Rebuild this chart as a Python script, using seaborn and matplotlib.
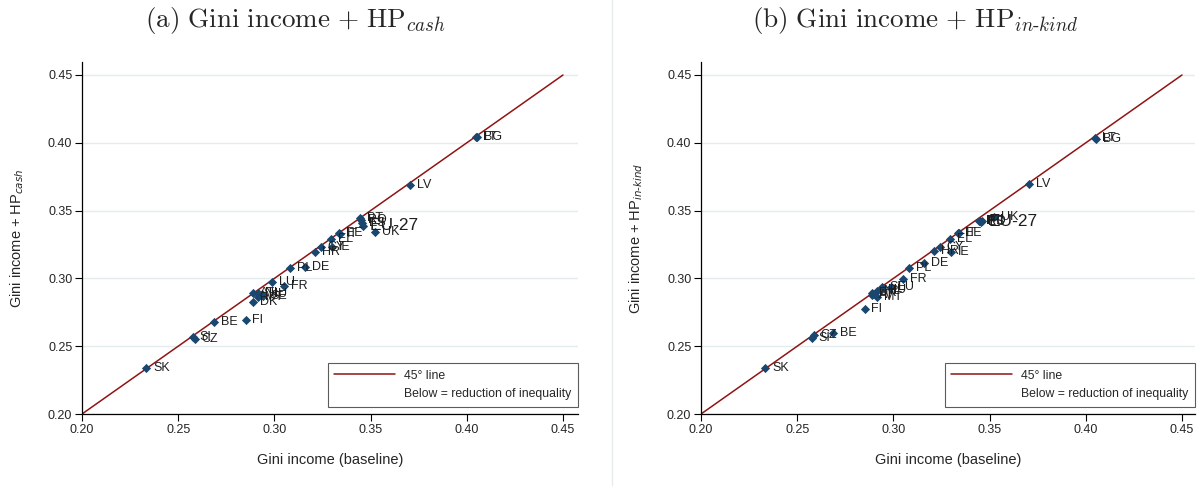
import numpy as np
import pandas as pd
import matplotlib
matplotlib.use("Agg")
import matplotlib.pyplot as plt
from matplotlib.lines import Line2D
import seaborn as sns

# country codes and Gini values
countries = ["SK", "SI", "CZ", "BE", "FI", "DK", "AT", "NL", "HU", "SE", "MT",
             "LU", "FR", "PL", "DE", "HR", "CY", "IE", "EL", "EE", "IT",
             "PT", "RO", "ES", "EU-27", "UK", "LV", "LT", "BG"]
gini_base = [0.2335, 0.2575, 0.2585, 0.2685, 0.2850, 0.2887, 0.2889, 0.2916, 0.2934, 0.2941, 0.2915,
             0.2986, 0.3050, 0.3080, 0.3160, 0.3210, 0.3240, 0.3300, 0.3295, 0.3335, 0.3340,
             0.3445, 0.3450, 0.3455, 0.3460, 0.3525, 0.3705, 0.4050, 0.4055]
gini_cash = [0.2340, 0.2570, 0.2550, 0.2680, 0.2690, 0.2828, 0.2892, 0.2895, 0.2885, 0.2870, 0.2863,
             0.2976, 0.2946, 0.3080, 0.3085, 0.3197, 0.3235, 0.3228, 0.3290, 0.3337, 0.3330,
             0.3445, 0.3430, 0.3406, 0.3390, 0.3345, 0.3690, 0.4045, 0.4040]
gini_inkind = [0.2340, 0.2560, 0.2580, 0.2595, 0.2775, 0.2895, 0.2880, 0.2905, 0.2915, 0.2935, 0.2860,
               0.2940, 0.2998, 0.3080, 0.3116, 0.3205, 0.3235, 0.3192, 0.3288, 0.3333, 0.3335,
               0.3425, 0.3420, 0.3415, 0.3420, 0.3455, 0.3696, 0.4035, 0.4030]
diag = [0.20, 0.45]
ticks = [0.20, 0.25, 0.30, 0.35, 0.40, 0.45]

df = pd.DataFrame({"country": countries, "base": gini_base,
                   "cash": gini_cash, "inkind": gini_inkind})

sns.set_style("white")
plt.rcParams["font.family"] = ["Liberation Sans", "DejaVu Sans"]

navy = "#1a476f"
maroon = "#8f1414"
gridc = "#e4ecee"

W, H = 1199, 486
fig = plt.figure(figsize=(W / 100, H / 100), dpi=100)

# (column, left px, right px, y label, title, title centre px, y label right edge px)
panels = [
    ("cash", 82, 578, r"Gini income + HP$_{cash}$",
     r"$\mathrm{(a)\ Gini\ income\ {+}\ HP}_{cash}$", 295, 26),
    ("inkind", 701, 1195, r"Gini income + HP$_{in\text{-}kind}$",
     r"$\mathrm{(b)\ Gini\ income\ {+}\ HP}_{in\text{-}kind}$", 915, 645),
]

for col, x0, x1, ylab, title, tx, ylx in panels:
    ax = fig.add_axes([x0 / W, (H - 414) / H, (x1 - x0) / W, (414 - 62) / H])
    sns.lineplot(x=diag, y=diag, ax=ax, color=maroon, linewidth=1.1, zorder=2)
    sns.scatterplot(data=df, x="base", y=col, ax=ax, marker="D", s=22,
                    color=navy, linewidth=0, zorder=3)
    for _, r in df.iterrows():
        big = r["country"] == "EU-27"
        ax.annotate(r["country"], (r["base"], r[col]), xytext=(5, 0),
                    textcoords="offset points", va="center", ha="left",
                    fontsize=12.5 if big else 9, color="#1e1e1e", zorder=4)

    ax.set_xlim(0.20, 0.20 + (x1 - x0) / 1924)
    ax.set_ylim(0.20, 0.20 + (414 - 62) / 1356)
    ax.set_xticks(ticks)
    ax.set_yticks(ticks)
    ax.set_xticklabels([f"{t:.2f}" for t in ticks], fontsize=9)
    ax.set_yticklabels([f"{t:.2f}" for t in ticks], fontsize=9)
    ax.tick_params(direction="out", length=5, width=0.8, color="black",
                   left=True, bottom=True, pad=2)
    ax.yaxis.grid(True, color=gridc, linewidth=1)
    ax.xaxis.grid(False)
    ax.set_axisbelow(True)
    for s in ["top", "right"]:
        ax.spines[s].set_visible(False)
    for s in ["left", "bottom"]:
        ax.spines[s].set_color("black")
        ax.spines[s].set_linewidth(0.9)

    ax.set_xlabel("Gini income (baseline)", fontsize=10.5)
    ax.set_ylabel(ylab, fontsize=10.5, math_fontfamily="dejavusans")
    ax.xaxis.set_label_coords(0.5, -(453 - 414) / 352)
    ax.yaxis.set_label_coords(-(x0 - ylx) / (x1 - x0), 0.5)

    handles = [Line2D([], [], color=maroon, linewidth=1.1),
               Line2D([], [], color="none")]
    leg = ax.legend(handles, ["45° line", "Below = reduction of inequality"],
                    loc="lower right", bbox_to_anchor=(1.0, 7 / 352),
                    borderaxespad=0, frameon=True, fancybox=False,
                    edgecolor="#333333", fontsize=8.8, handlelength=5.0,
                    handletextpad=0.7, borderpad=0.55, labelspacing=0.55)
    leg.get_frame().set_linewidth(0.8)

    fig.text(tx / W, 1 - 20 / H, title, ha="center", va="center",
             fontsize=19.5, math_fontfamily="cm")

fig.add_artist(Line2D([612 / W, 612 / W], [0, 1], color="#e6ebec",
                      linewidth=1, transform=fig.transFigure))

fig.savefig("out.png", dpi=100, facecolor="white")
